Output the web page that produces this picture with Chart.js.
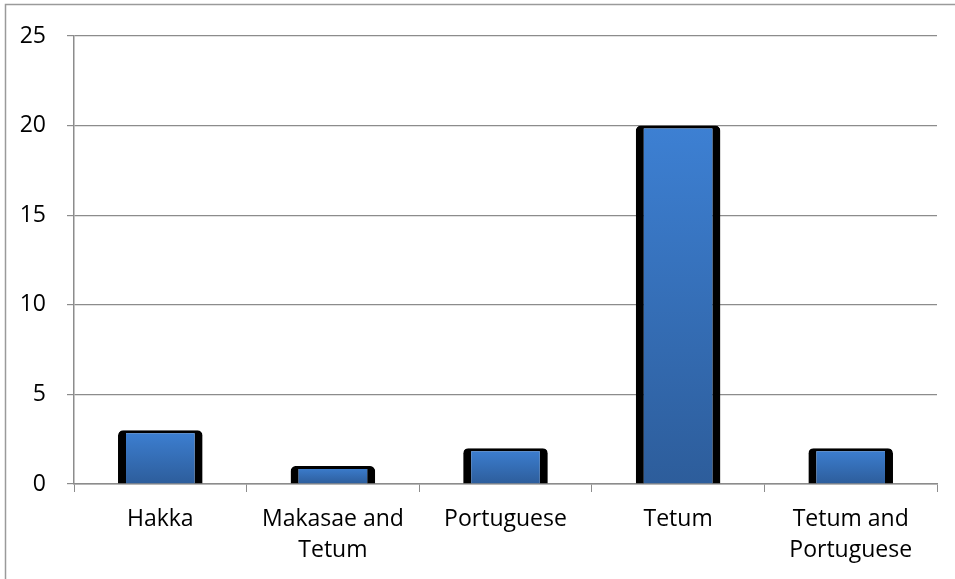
<!DOCTYPE html>
<html lang="en">
<head>
<meta charset="UTF-8">
<title>Languages</title>
<script src="https://cdn.jsdelivr.net/npm/chart.js"></script>
<style>
  html, body { margin: 0; padding: 0; background: #fff; }
  #wrap { width: 955px; height: 579px; position: relative; }
</style>
</head>
<body>
<div id="wrap"><canvas id="chart"></canvas></div>
<script>
// categories and counts
const languages = [['Hakka'], ['Makasae and', 'Tetum'], ['Portuguese'], ['Tetum'], ['Tetum and', 'Portuguese']];
const counts = [3, 1, 2, 20, 2];
const yTicks = [0, 5, 10, 15, 20, 25];

const gridGray = '#8c8c8c';
const labelFont = { family: 'Open Sans', size: 23, lineHeight: 1.35 };

// outer frame around the whole chart
const framePlugin = {
  id: 'frame',
  afterDraw(chart) {
    const ctx = chart.ctx;
    ctx.save();
    ctx.strokeStyle = '#9a9a9a';
    ctx.lineWidth = 1.5;
    ctx.strokeRect(5.5, 4.5, 1000, 700);
    ctx.restore();
  }
};

// vertical blue gradient per bar, light at the top, darker at the base
function barGradient(c) {
  const chart = c.chart;
  const y = chart.scales.y;
  if (!y || !c.parsed) return '#3d80d3';
  const top = y.getPixelForValue(c.parsed.y);
  const base = y.getPixelForValue(0);
  if (!isFinite(top) || !isFinite(base) || top === base) return '#3d80d3';
  const g = chart.ctx.createLinearGradient(0, top, 0, base);
  g.addColorStop(0, '#3d80d3');
  g.addColorStop(1, '#2d5d9b');
  return g;
}

new Chart(document.getElementById('chart'), {
  type: 'bar',
  data: {
    labels: languages,
    datasets: [{
      data: counts,
      backgroundColor: barGradient,
      borderColor: '#000',
      borderWidth: { left: 8, right: 8, top: 3, bottom: 0 },
      borderRadius: { topLeft: 5, topRight: 5, bottomLeft: 0, bottomRight: 0 },
      borderSkipped: false,
      barPercentage: 0.49,
      categoryPercentage: 1
    }]
  },
  options: {
    responsive: true,
    maintainAspectRatio: false,
    animation: false,
    layout: { padding: { top: 36, right: 18, left: 0, bottom: 0 } },
    plugins: { legend: { display: false }, tooltip: { enabled: false } },
    scales: {
      x: {
        grid: { display: true, drawOnChartArea: false, color: gridGray, tickLength: 8, offset: true },
        border: { color: gridGray, width: 1.5 },
        ticks: {
          color: '#000',
          font: labelFont,
          padding: 12,
          maxRotation: 0,
          autoSkip: false
        },
        afterFit(scale) { scale.height = 95; }
      },
      y: {
        min: 0,
        max: 25,
        afterBuildTicks(scale) { scale.ticks = yTicks.map(v => ({ value: v })); },
        grid: { color: gridGray, lineWidth: 1.2, tickLength: 7 },
        border: { color: gridGray, width: 1.5 },
        ticks: {
          color: '#000',
          font: { family: 'Open Sans', size: 23 },
          padding: 21
        },
        afterFit(scale) { scale.width = 74; }
      }
    }
  },
  plugins: [framePlugin]
});
</script>
</body>
</html>
